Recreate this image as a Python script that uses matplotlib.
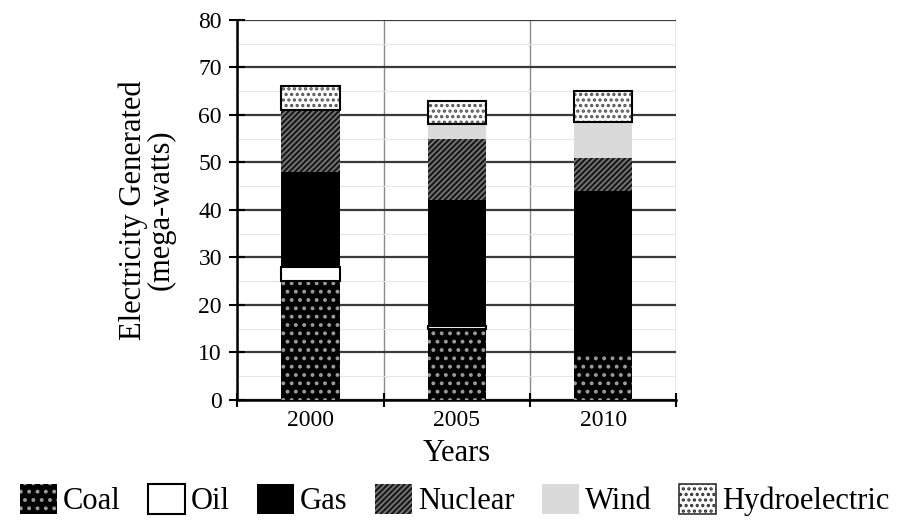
import matplotlib
matplotlib.use('Agg')
import matplotlib.pyplot as plt
import matplotlib.patches as mpatches
import numpy as np

# data (mega-watts)
years = ['2000', '2005', '2010']
coal = [25, 15, 10]
oil = [3, 0.5, 0]
gas = [20, 26.5, 34]
nuclear = [13, 13, 7]
wind = [0, 3, 7.5]
hydro = [5, 5, 6.5]

plt.rcParams['font.family'] = 'Liberation Serif'
plt.rcParams['hatch.linewidth'] = 1.6

fig = plt.figure(figsize=(9.09, 5.24), dpi=100)
ax = fig.add_axes([0.261, 0.237, 0.483, 0.725])

x = np.arange(len(years))
w = 0.4

# (values, facecolor, hatch colour, hatch, outline)
series = [
    ('Coal', coal, 'black', '#9a9a9a', '..', None),
    ('Oil', oil, 'white', 'black', None, 'black'),
    ('Gas', gas, 'black', 'black', None, None),
    ('Nuclear', nuclear, '#7a7a7a', '#1a1a1a', '//////', None),
    ('Wind', wind, '#dadada', '#dadada', None, None),
    ('Hydroelectric', hydro, 'white', '#555555', '...', 'black'),
]

bottom = np.zeros(len(years))
handles = []
for name, vals, fc, hc, hatch, oc in series:
    vals = np.array(vals, dtype=float)
    ax.bar(x, vals, w, bottom=bottom, color=fc, edgecolor=hc, hatch=hatch,
           linewidth=0, zorder=3)
    if oc is not None:
        ax.bar(x, vals, w, bottom=bottom, fill=False, edgecolor=oc,
               linewidth=1.5, zorder=4)
    bottom += vals
    handles.append(mpatches.Patch(facecolor=fc, edgecolor=hc, hatch=hatch,
                                  linewidth=0))

# legend handles with outlines where needed
handles[1] = mpatches.Patch(facecolor='white', edgecolor='black', linewidth=1.5)
handles[5] = mpatches.Patch(facecolor='white', edgecolor='#333333', hatch='...',
                            linewidth=1.2)

ax.set_xlim(-0.5, 2.5)
ax.set_ylim(0, 80)
ax.set_yticks(range(0, 81, 10))
ax.set_yticks(range(5, 80, 10), minor=True)
ax.set_xticks([-0.5, 0.5, 1.5, 2.5])
ax.set_xticklabels([])
ax.set_xticks(x, minor=True)
ax.set_xticklabels(years, minor=True)
ax.tick_params(axis='x', which='minor', length=0, pad=7, labelsize=17)
ax.tick_params(axis='x', which='major', direction='inout', length=10, width=1.5)
ax.tick_params(axis='y', which='major', direction='inout', length=12, width=1.5,
               labelsize=17, pad=5)
ax.tick_params(axis='y', which='minor', length=0)

ax.grid(axis='y', which='major', color='#3a3a3a', linewidth=1.6, zorder=0)
ax.grid(axis='y', which='minor', color='#e6e6e6', linewidth=0.8, zorder=0)
ax.grid(axis='x', which='major', color='#8a8a8a', linewidth=1.0, zorder=0)
ax.set_axisbelow(True)

for s in ['top', 'right']:
    ax.spines[s].set_visible(False)
ax.spines['left'].set_linewidth(1.8)
ax.spines['bottom'].set_linewidth(1.8)

ax.set_ylabel('Electricity Generated\n(mega-watts)', fontsize=22, labelpad=16,
              linespacing=0.95)
ax.set_xlabel('Years', fontsize=22, labelpad=6)

fig.legend(handles, [s[0] for s in series], loc='center', ncol=6,
           bbox_to_anchor=(0.5, 0.045), frameon=False, fontsize=22,
           handlelength=1.2, handleheight=1.1, handletextpad=0.2,
           columnspacing=0.9)

fig.savefig('out.png', dpi=100)
